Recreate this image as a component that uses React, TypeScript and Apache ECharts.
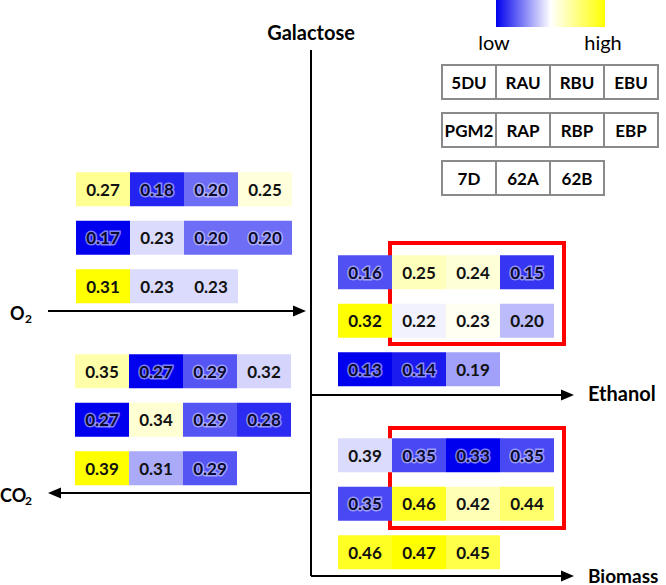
import React, { useEffect, useRef } from 'react';
import * as echarts from 'echarts';

// Strain layout (legend key): one row per strain set
const keyRow1 = ['5DU', 'RAU', 'RBU', 'EBU'];
const keyRow2 = ['PGM2', 'RAP', 'RBP', 'EBP'];
const keyRow3 = ['7D', '62A', '62B'];

const colCats = ['0', '1', '2', '3'];
const rowCats = ['0', '1', '2'];

// Yields (rows follow the key rows)
const o2Rows = [
  [0.27, 0.18, 0.20, 0.25],
  [0.17, 0.23, 0.20, 0.20],
  [0.31, 0.23, 0.23],
];
const co2Rows = [
  [0.35, 0.27, 0.29, 0.32],
  [0.27, 0.34, 0.29, 0.28],
  [0.39, 0.31, 0.29],
];
const ethanolRows = [
  [0.16, 0.25, 0.24, 0.15],
  [0.32, 0.22, 0.23, 0.20],
  [0.13, 0.14, 0.19],
];
const biomassRows = [
  [0.39, 0.35, 0.33, 0.35],
  [0.35, 0.46, 0.42, 0.44],
  [0.46, 0.47, 0.45],
];

const FONT = 'Lato';
const BLUE = '#0000ee';

export default function App() {
  const ref = useRef<HTMLDivElement>(null);

  useEffect(() => {
    if (!ref.current) return;
    const chart = echarts.init(ref.current, null, { renderer: 'svg' });

    const groups = [
      { rows: o2Rows, left: 76, top: 165 },
      { rows: co2Rows, left: 75, top: 347 },
      { rows: ethanolRows, left: 338, top: 248 },
      { rows: biomassRows, left: 338, top: 431 },
    ];
    const CELL_W = 54;
    const BAND_H = 48.5;
    const CELL_H = 34;

    const grids: any[] = [];
    const xAxes: any[] = [];
    const yAxes: any[] = [];
    const series: any[] = [];
    const visualMaps: any[] = [];

    groups.forEach((g, gi) => {
      const flat: number[] = ([] as number[]).concat(...g.rows);
      const mn = Math.min(...flat);
      const mx = Math.max(...flat);
      grids.push({ left: g.left, top: g.top, width: CELL_W * 4, height: BAND_H * 3, show: false });
      xAxes.push({ type: 'category', data: colCats, gridIndex: gi, show: false });
      yAxes.push({ type: 'category', data: rowCats, gridIndex: gi, inverse: true, show: false });
      const data: any[] = [];
      g.rows.forEach((row, ri) => row.forEach((v, ci) => data.push([ci, ri, v])));
      visualMaps.push({
        type: 'continuous',
        show: false,
        seriesIndex: gi,
        dimension: 2,
        min: mn,
        max: mx,
        inRange: { color: [BLUE, '#ffffff', '#ffff00'] },
      });
      series.push({
        type: 'custom',
        xAxisIndex: gi,
        yAxisIndex: gi,
        encode: { x: 0, y: 1 },
        data,
        renderItem: (params: any, api: any) => {
          const v = api.value(2);
          const c = api.coord([api.value(0), api.value(1)]);
          const s = api.size([1, 1]);
          const w = s[0];
          const t = (v - mn) / (mx - mn);
          const halo = t < 0.3;
          return {
            type: 'rect',
            shape: { x: c[0] - w / 2, y: c[1] - CELL_H / 2, width: w, height: CELL_H },
            style: { fill: api.visual('color') },
            textContent: {
              style: {
                text: v.toFixed(2),
                fill: halo ? '#0a0a30' : '#111',
                fontFamily: FONT,
                fontWeight: 'bold',
                fontSize: 17,
                stroke: halo ? 'rgba(215,215,255,0.6)' : undefined,
                lineWidth: halo ? 3 : 0,
                strokeFirst: true,
              },
            },
            textConfig: { position: 'inside' },
          };
        },
      });
    });

    const line = (x1: number, y1: number, x2: number, y2: number) => ({
      type: 'line',
      shape: { x1, y1, x2, y2 },
      style: { stroke: '#000', lineWidth: 2 },
    });
    const headRight = (x: number, y: number) => ({
      type: 'polygon',
      shape: { points: [[x, y], [x - 13, y - 5.5], [x - 13, y + 5.5]] },
      style: { fill: '#000' },
    });
    const headLeft = (x: number, y: number) => ({
      type: 'polygon',
      shape: { points: [[x, y], [x + 13, y - 5.5], [x + 13, y + 5.5]] },
      style: { fill: '#000' },
    });
    const label = (text: string, x: number, y: number, size: number, weight = 'bold', align = 'left') => ({
      type: 'text',
      x,
      y,
      style: {
        text,
        fill: '#000',
        fontFamily: FONT,
        fontWeight: weight,
        fontSize: size,
        align,
        verticalAlign: 'middle',
      },
    });

    const keyBoxes: any[] = [];
    const keyRows = [keyRow1, keyRow2, keyRow3];
    const keyTops = [65, 113, 161];
    keyRows.forEach((row, ri) => {
      row.forEach((name, ci) => {
        const x = 442 + ci * 54;
        const y = keyTops[ri];
        keyBoxes.push({
          type: 'rect',
          shape: { x, y, width: 54, height: 34 },
          style: { fill: '#fff', stroke: '#8a8a8a', lineWidth: 2 },
        });
        keyBoxes.push(label(name, x + 27, y + 17, 17, 'bold', 'center'));
      });
    });

    const graphic: any[] = [
      // main axis
      line(311, 50, 311, 576),
      line(48, 311, 296, 311),
      headRight(306, 311),
      line(311, 395, 563, 395),
      headRight(574, 395),
      line(311, 576, 563, 576),
      headRight(574, 576),
      line(311, 493, 60, 493),
      headLeft(48, 493),
      label('Galactose', 311, 32, 20, 'bold', 'center'),
      label('Ethanol', 588, 393, 20),
      label('Biomass', 588, 575, 19),
      label('O', 10, 313, 18),
      label('2', 25, 318, 12),
      label('CO', 0, 495, 18),
      label('2', 25, 500, 12),
      // highlight boxes
      {
        type: 'rect',
        shape: { x: 390, y: 243, width: 174, height: 101 },
        style: { fill: 'none', stroke: '#ff0000', lineWidth: 4 },
      },
      {
        type: 'rect',
        shape: { x: 390, y: 428, width: 174, height: 100 },
        style: { fill: 'none', stroke: '#ff0000', lineWidth: 4 },
      },
      // colour key
      {
        type: 'rect',
        shape: { x: 496, y: 0, width: 109, height: 27 },
        style: {
          fill: new echarts.graphic.LinearGradient(0, 0, 1, 0, [
            { offset: 0, color: BLUE },
            { offset: 0.5, color: '#ffffff' },
            { offset: 1, color: '#ffff00' },
          ]),
        },
      },
      label('low', 494, 42, 20, 'normal', 'center'),
      label('high', 603, 42, 20, 'normal', 'center'),
      ...keyBoxes,
    ];

    chart.setOption({
      animation: false,
      backgroundColor: '#ffffff',
      grid: grids,
      xAxis: xAxes,
      yAxis: yAxes,
      visualMap: visualMaps,
      series,
      graphic,
    });

    return () => chart.dispose();
  }, []);

  return (
    <div
      ref={ref}
      style={{ position: 'absolute', left: 0, top: 0, width: 666, height: 585 }}
    />
  );
}
